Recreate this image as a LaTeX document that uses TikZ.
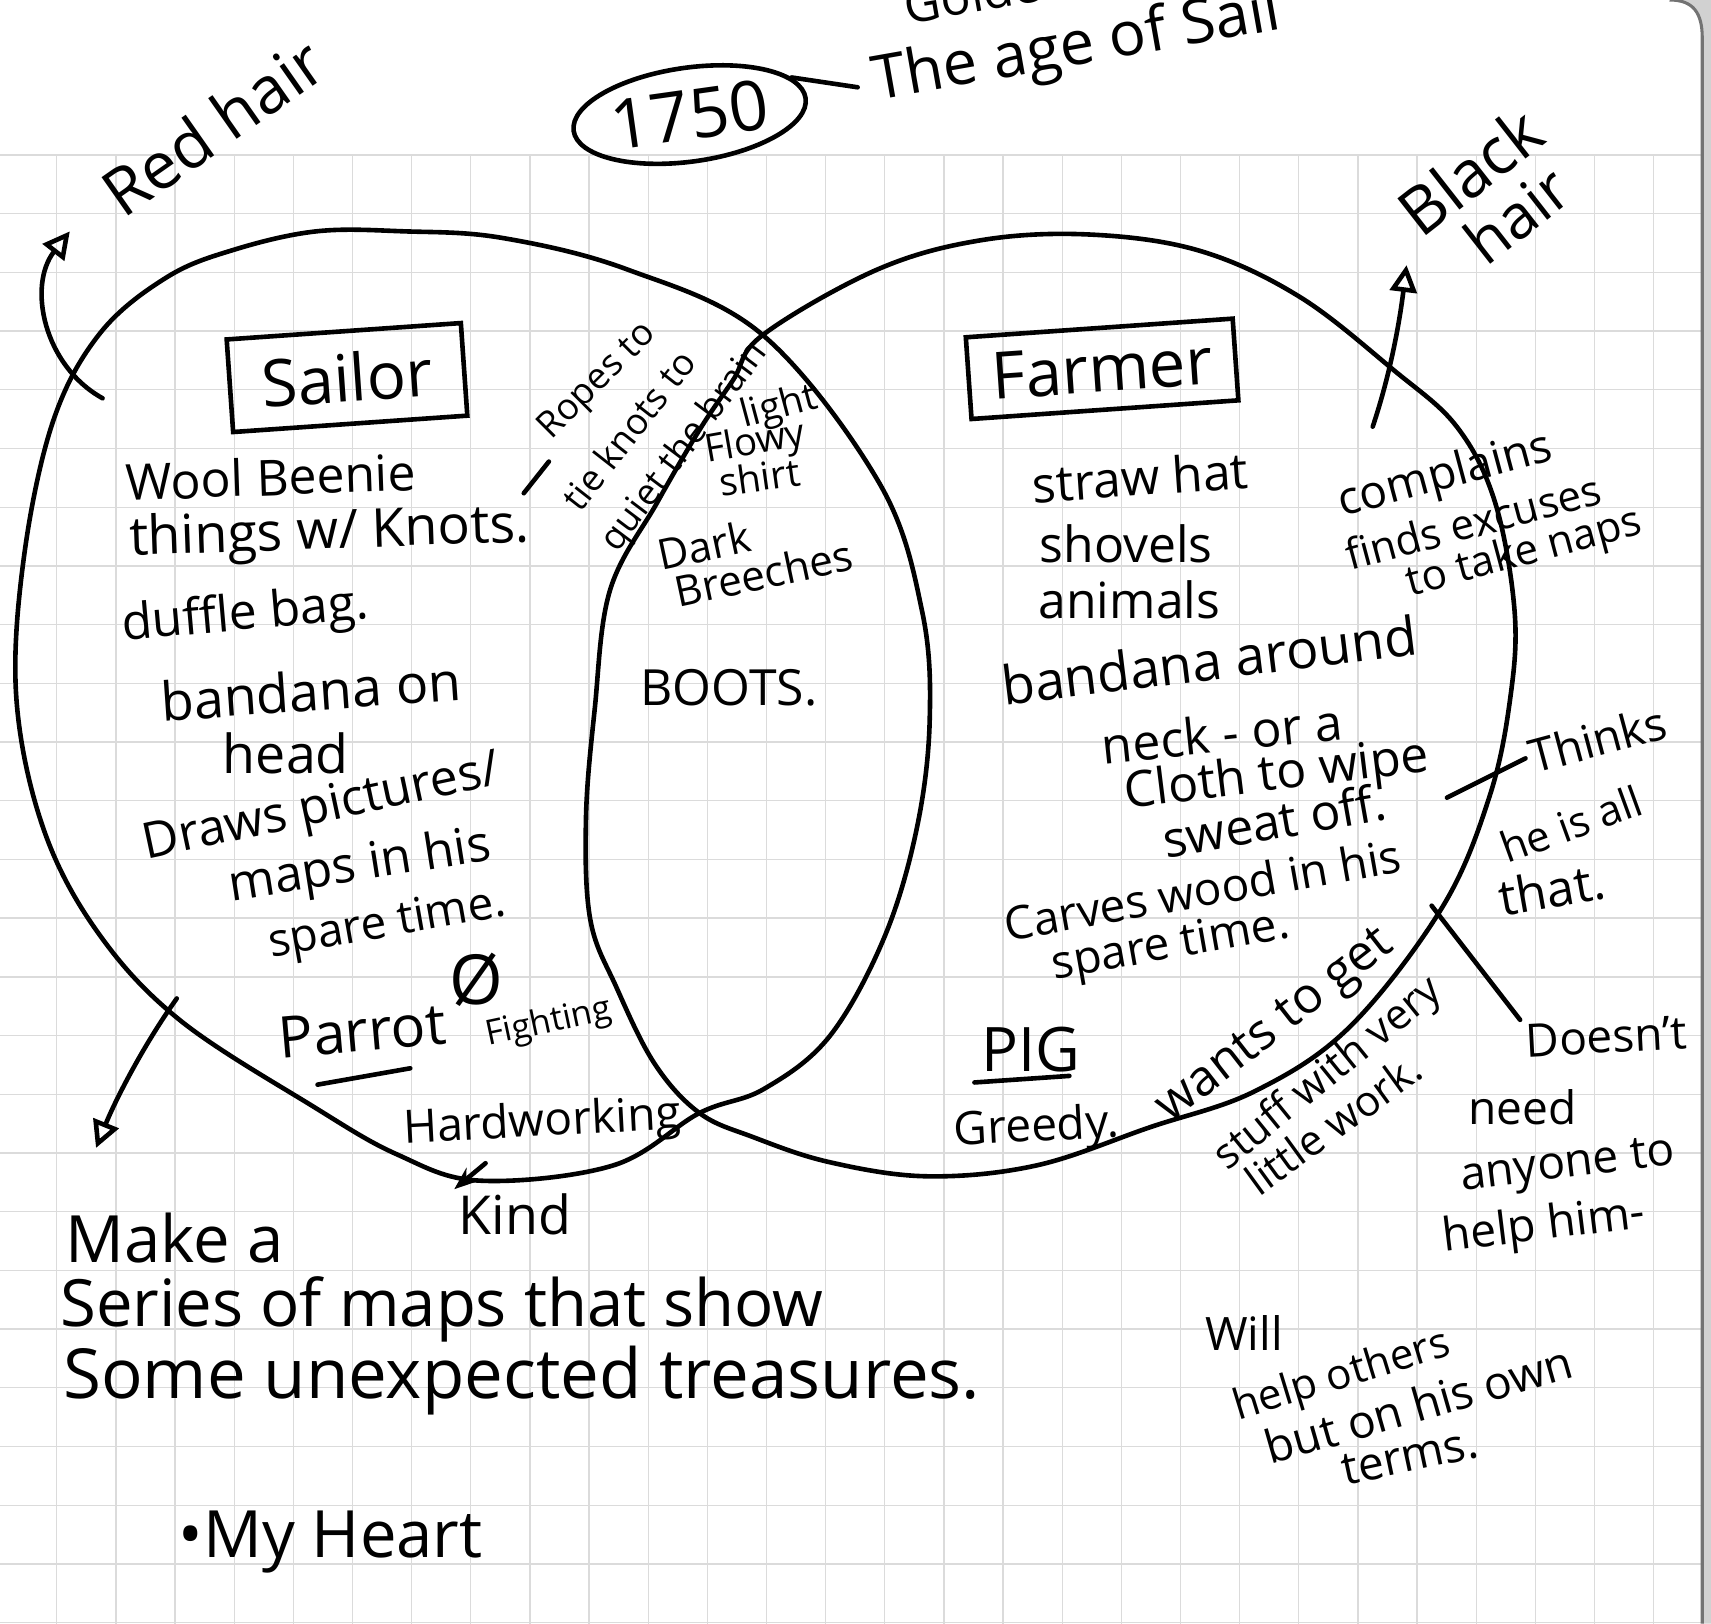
\documentclass[tikz,border=0pt]{standalone}
\usepackage{fontspec}
\setmainfont{Open Sans}
\usetikzlibrary{arrows.meta, shapes.geometric}

\tikzset{
  ink/.style={line width=1.2pt, line cap=round, line join=round},
  gridline/.style={line width=0.35pt, black!14},
  hand/.style={inner sep=1pt, font=\fontsize{#1}{#1}\selectfont},
  hollow/.style={-{Triangle[open, length=7pt, width=7pt]}},
  labelbox/.style={draw, line width=1.2pt, inner sep=0pt},
}

\begin{document}
\begin{tikzpicture}[x=0.01cm, y=-0.01cm]
    \useasboundingbox (0,0) rectangle (1568,1488);
    \clip (0,0) rectangle (1568,1488);

    % Draw grid paper
    \foreach \gx in {0,...,28}
        \draw[gridline] ({52+54.2*\gx},142) -- ({52+54.2*\gx},1488);
    \foreach \gy in {0,...,25}
        \draw[gridline] (0,{142+53.8*\gy}) -- (1568,{142+53.8*\gy});

    % Page edge
    \fill[black!18] (1530,0) .. controls (1552,0) and (1560,12) .. (1560,35) -- (1560,1488) -- (1568,1488) -- (1568,0) -- cycle;
    \draw[line width=0.8pt, black!55] (1530,0) .. controls (1552,0) and (1560,12) .. (1560,35) -- (1560,1488);

    % Draw circles
    \draw[ink] plot[smooth cycle, tension=0.6] coordinates {
        (699,307) (806,443) (845,560) (852,660) (840,760) (810,860) (760,950)
        (700,998) (641,1020) (562,1068) (440,1082) (364,1058) (287,1014) (165,935)
        (90,855) (40,760) (15,640) (22,510) (49,385) (92,305) (153,254)
        (214,229) (290,212) (370,212) (460,218) (575,247)};
    \draw[ink] plot[smooth cycle, tension=0.6] coordinates {
        (699,307) (804,247) (900,220) (1000,215) (1100,230) (1191,272)
        (1277,339) (1335,391) (1370,460) (1388,560) (1384,640) (1365,730)
        (1322,831) (1237,941) (1150,1000) (1054,1033) (950,1068) (850,1078)
        (760,1065) (690,1042) (641,1020) (600,975) (565,905) (541,843)
        (537,750) (545,650) (559,541) (602,461) (641,394) (672,348)};

    % Title
    \node[hand=18, draw, ellipse, line width=1.2pt, minimum width=2.1cm, minimum height=0.86cm, rotate=8] (yr) at (632,105) {1750};
    \node[hand=16, rotate=10, anchor=west, inner sep=4pt] (age) at (786,80) {The age of Sail};
    \node[hand=13, rotate=10] (golden) at (905,-8) {Golden};
    \draw[ink] (yr.12) -- (age.west);

    % Hair notes
    \node[hand=17, rotate=35] (redhair) at (195,116) {Red hair};
    \node[hand=17, rotate=38] (black) at (1347,157) {Black};
    \node[hand=16, rotate=38] (blackhair) at (1390,197) {hair};
    \coordinate (redtail) at (94,365);
    \coordinate (redtip) at (64,212);
    \draw[ink, hollow] (redtail) .. controls (40,335) and (25,262) .. (redtip);
    \coordinate (blacktail) at (1258,391);
    \coordinate (blacktip) at (1289,243);
    \draw[ink, hollow] (blacktail) .. controls (1275,340) and (1283,292) .. (blacktip);

    % Sailor side
    \node[hand=17, labelbox, minimum width=2.15cm, minimum height=0.85cm, rotate=4] (sailor) at (318,346) {Sailor};
    \node[hand=13, rotate=2] (wool) at (248,437) {Wool Beenie};
    \node[hand=14, rotate=2] (things) at (302,490) {things w/ Knots.};
    \node[hand=13, rotate=5] (duffle) at (225,565) {duffle bag.};
    \node[hand=14, rotate=4] (bandanaon) at (285,633) {bandana on};
    \node[hand=14] (head) at (262,690) {head};
    \node[hand=13, rotate=12] (draws) at (295,742) {Draws pictures/};
    \node[hand=13, rotate=9] (maps) at (330,795) {maps in his};
    \node[hand=12, rotate=10] (sparesail) at (355,848) {spare time.};
    \node[hand=15, rotate=5] (parrot) at (332,945) {Parrot};
    \node[hand=18] (nofight) at (437,898) {Ø};
    \node[hand=9, rotate=12] (fight) at (503,938) {Fighting};
    \node[hand=12, rotate=3] (hard) at (497,1030) {Hardworking};
    \node[hand=14] (kind) at (472,1113) {Kind};
    \coordinate (parrotula) at (291,994);
    \coordinate (parrotulb) at (376,979);
    \draw[ink] (parrotula) -- (parrotulb);
    \coordinate (kindtail) at (445,1066);
    \draw[ink, -{Stealth[length=6pt]}] (kindtail) -- (kind.north west);
    \coordinate (outtail) at (162,915);
    \coordinate (outtip) at (88,1052);
    \draw[ink, hollow] (outtail) .. controls (130,960) and (105,1010) .. (outtip);

    % Ropes note
    \coordinate (ropea) at (480,452);
    \coordinate (ropeb) at (503,423);
    \draw[ink] (ropea) -- (ropeb);
    \node[hand=9.5, rotate=45] (ropes1) at (548,350) {Ropes to};
    \node[hand=9.5, rotate=52] (ropes2) at (576,394) {tie knots to};
    \node[hand=9.5, rotate=53] (ropes3) at (628,410) {quiet the brain};

    % Both
    \node[hand=10, rotate=15] (light) at (714,374) {light};
    \node[hand=10, rotate=10] (flowy) at (692,407) {Flowy};
    \node[hand=10, rotate=8] (shirt) at (696,437) {shirt};
    \node[hand=11, rotate=12] (dark) at (645,500) {Dark};
    \node[hand=11, rotate=12] (breeches) at (700,525) {Breeches};
    \node[hand=13] (boots) at (668,630) {BOOTS.};

    % Farmer side
    \node[hand=17, labelbox, minimum width=2.45cm, minimum height=0.75cm, rotate=4] (farmer) at (1010,338) {Farmer};
    \node[hand=13, rotate=4] (straw) at (1045,437) {straw hat};
    \node[hand=13] (shovels) at (1032,498) {shovels};
    \node[hand=13] (animals) at (1035,550) {animals};
    \node[hand=14, rotate=7] (bandanaround) at (1108,605) {bandana around};
    \node[hand=13, rotate=6] (neck) at (1120,672) {neck - or a};
    \node[hand=13, rotate=7] (cloth) at (1170,712) {Cloth to wipe};
    \node[hand=13, rotate=10] (sweat) at (1168,752) {sweat off.};
    \node[hand=12, rotate=10] (carves) at (1102,815) {Carves wood in his};
    \node[hand=12, rotate=10] (sparefarm) at (1073,868) {spare time.};
    \node[hand=16] (pig) at (945,962) {PIG};
    \node[hand=12, rotate=3] (greedy) at (950,1035) {Greedy.};
    \coordinate (pigula) at (893,992);
    \coordinate (pigulb) at (980,986);
    \draw[ink] (pigula) -- (pigulb);
    \node[hand=13, rotate=38] (wants) at (1170,942) {wants to get};
    \node[hand=11, rotate=39] (stuff) at (1218,985) {stuff with very};
    \node[hand=11, rotate=36] (little) at (1222,1030) {little work.};
    \node[hand=12, rotate=15] (complains) at (1325,437) {complains};
    \node[hand=11, rotate=15] (finds) at (1350,478) {finds excuses};
    \node[hand=11, rotate=15] (naps) at (1397,508) {to take naps};

    % Outside notes
    \node[hand=12, rotate=15, anchor=west] (thinks) at (1398,695) {Thinks};
    \node[hand=11, rotate=20] (heis) at (1440,755) {he is all};
    \node[hand=13, rotate=10] (that) at (1422,815) {that.};
    \coordinate (thinkstail) at (1326,731);
    \draw[ink] (thinkstail) -- (thinks.west);
    \node[hand=12, rotate=3] (doesnt) at (1472,950) {Doesn't};
    \node[hand=12] (need) at (1395,1015) {need};
    \node[hand=12, rotate=7] (anyone) at (1437,1070) {anyone to};
    \node[hand=12, rotate=7] (helphim) at (1415,1125) {help him-};
    \coordinate (doesnttail) at (1312,830);
    \draw[ink] (doesnttail) -- (doesnt.north west);
    \node[hand=12] (will) at (1140,1222) {Will};
    \node[hand=11, rotate=17] (others) at (1230,1262) {help others};
    \node[hand=12, rotate=16] (buton) at (1300,1287) {but on his own};
    \node[hand=12, rotate=12] (terms) at (1292,1335) {terms.};

    % Bottom notes
    \node[hand=17] (make) at (160,1135) {Make a};
    \node[hand=17] (series) at (405,1200) {Series of maps that show};
    \node[hand=18] (some) at (478,1265) {Some unexpected treasures.};
    \node[hand=17] (heart) at (303,1413) {•My Heart};
\end{tikzpicture}
\end{document}
